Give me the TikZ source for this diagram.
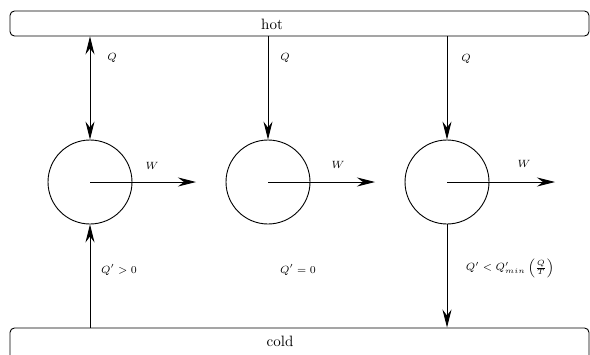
\documentclass[tikz,border=0pt]{standalone}
\usepackage{amsmath,amssymb}
\usetikzlibrary{arrows.meta}

\begin{document}
\begin{tikzpicture}[x=0.6667pt, y=-0.6667pt,
  res/.style={draw, rectangle, rounded corners=3pt, line width=0.6pt,
    minimum width=386pt, minimum height=16.7pt, inner sep=0pt},
  engine/.style={draw, circle, line width=0.6pt, minimum size=56pt, inner sep=0pt},
  flow/.style={line width=0.6pt, -{Stealth[length=12pt, width=6pt, inset=4pt]}},
  lbl/.style={font=\scriptsize}]
  \clip (0,0) rectangle (590,354);

  % Reservoirs
  \node[res] (hot) at (299.5,23.5) {};
  \node (hottxt) at (272,24) {hot};
  \node[res, minimum height=22.7pt] (cold) at (299.5,345) {};
  \node (coldtxt) at (280,341) {cold};

  % Engines
  \node[engine] (e1) at (90,182) {};
  \node[engine] (e2) at (268,182) {};
  \node[engine] (e3) at (447,182) {};

  % Work outputs
  \coordinate (w1) at (196,182);
  \coordinate (w2) at (375,182);
  \coordinate (w3) at (555,182);
  \draw[flow] (e1.center) -- (w1);
  \draw[flow] (e2.center) -- (w2);
  \draw[flow] (e3.center) -- (w3);
  \node[lbl] at (152,166) {$W$};
  \node[lbl] at (338,165) {$W$};
  \node[lbl] at (524,164) {$W$};

  % Heat from hot
  \draw[flow, {Stealth[length=12pt, width=6pt, inset=4pt]}-{Stealth[length=12pt, width=6pt, inset=4pt]}]
    (e1 |- hot.south) -- (e1.north);
  \draw[flow] (e2 |- hot.south) -- (e2.north);
  \draw[flow] (e3 |- hot.south) -- (e3.north);
  \node[lbl] at (112,58) {$Q$};
  \node[lbl] at (285,58) {$Q$};
  \node[lbl] at (466,59) {$Q$};

  % Heat to/from cold
  \draw[flow] (e1 |- cold.north) -- (e1.south);
  \draw[flow] (e3.south) -- (e3 |- cold.north);
  \node[lbl] at (119,270) {$Q' > 0$};
  \node[lbl] at (298,270) {$Q' = 0$};
  \node[lbl] at (510,268) {$Q' < Q'_{min}\left(\frac{Q}{T}\right)$};
\end{tikzpicture}
\end{document}
